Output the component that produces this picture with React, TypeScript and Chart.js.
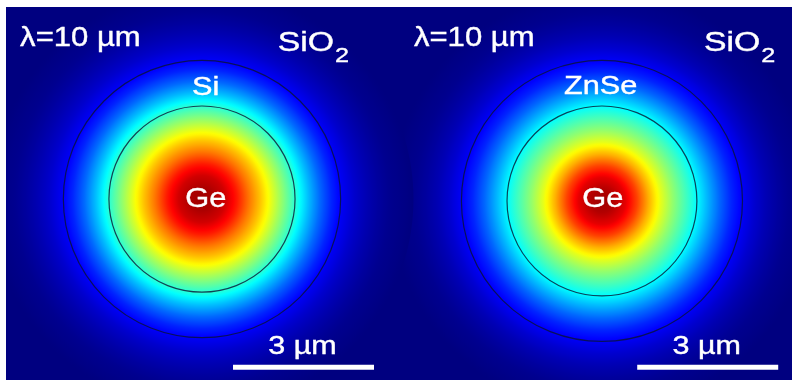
import { useEffect, useRef } from "react";
import { Chart, registerables } from "chart.js";

Chart.register(...registerables);

// ---- data ----
// radial sampling positions (µm from the fibre axis)
const radiusUm = [0, 0.25, 0.5, 0.75, 1.0, 1.25, 1.5, 1.75, 2.0, 2.25, 2.5, 2.75, 3.0, 3.25, 3.5, 3.75, 4.0, 4.5];
// normalised mode intensity along the radius (colour-map value 0..1)
const fieldGeSi = [0.97, 0.955, 0.92, 0.85, 0.76, 0.68, 0.59, 0.5, 0.41, 0.315, 0.23, 0.16, 0.11, 0.075, 0.05, 0.03, 0.015, 0];
const fieldGeZnSe = [0.97, 0.95, 0.9, 0.81, 0.7, 0.6, 0.52, 0.45, 0.38, 0.3, 0.225, 0.16, 0.115, 0.078, 0.05, 0.03, 0.015, 0];
// fibre geometry (µm)
const fiberCenterX = [4.17, 12.68];
const fiberCenterY = [3.85, 3.81];
const coreRadius = [1.98, 2.02];
const claddingRadius = [2.95, 2.99];
// labels
const wavelengthLabel = ["λ=10 µm", "λ=10 µm"];
const surroundLabel = ["SiO", "SiO"];
const surroundSub = ["2", "2"];
const claddingLabel = ["Si", "ZnSe"];
const coreLabel = ["Ge", "Ge"];
const scaleBarLength = [3, 3];
const scaleBarLabel = ["3 µm", "3 µm"];

const profiles = [fieldGeSi, fieldGeZnSe];

// ---- layout (µm in chart space, 47 px per µm) ----
const X_MAX = 786 / 47;
const Y_MAX = 373 / 47;
const scaleBarStart = [4.83, 13.43];
const scaleBarY = 0.27;
const titlePos = [[0.3, 7.11], [8.68, 7.11]];
const surroundPos = [[5.78, 7.0], [14.85, 7.0]];
const claddingPos = [[4.25, 6.07], [12.65, 6.09]];
const corePos = [[4.25, 3.68], [12.70, 3.69]];
const barLabelPos = [[6.31, 0.555], [14.91, 0.555]];

const FONT = '"Liberation Sans", Arial, sans-serif';

function jet(v: number): string {
  const c = (t: number) => Math.max(0, Math.min(1, t));
  const r = c(1.5 - Math.abs(4 * v - 3));
  const g = c(1.5 - Math.abs(4 * v - 2));
  const b = c(1.5 - Math.abs(4 * v - 1));
  return `rgb(${Math.round(r * 255)},${Math.round(g * 255)},${Math.round(b * 255)})`;
}

function umToPx(chart: any, um: number) {
  const xs = chart.scales && chart.scales.x;
  if (!xs) return 0;
  const v = xs.getPixelForValue(um) - xs.getPixelForValue(0);
  return Number.isFinite(v) ? v : 0;
}

function fieldGradient(chart: any, i: number) {
  const xs = chart.scales && chart.scales.x;
  const ys = chart.scales && chart.scales.y;
  if (!xs || !ys) return jet(0);
  const cx = xs.getPixelForValue(fiberCenterX[i]);
  const cy = ys.getPixelForValue(fiberCenterY[i]);
  const rMax = radiusUm[radiusUm.length - 1];
  const rPx = umToPx(chart, rMax);
  if (!Number.isFinite(cx) || !Number.isFinite(cy) || !(rPx > 0)) return jet(0);
  const g = chart.ctx.createRadialGradient(cx, cy, 0, cx, cy, rPx);
  const prof = profiles[i];
  const steps = 6;
  for (let k = 0; k < radiusUm.length - 1; k++) {
    for (let s = 0; s < steps; s++) {
      const t = s / steps;
      const r = radiusUm[k] + (radiusUm[k + 1] - radiusUm[k]) * t;
      const v = prof[k] + (prof[k + 1] - prof[k]) * t;
      g.addColorStop(r / rMax, jet(v));
    }
  }
  g.addColorStop(1, jet(prof[prof.length - 1]));
  return g;
}

function drawText(ctx: CanvasRenderingContext2D, text: string, x: number, y: number, size: number, align: CanvasTextAlign, sx: number) {
  ctx.save();
  ctx.translate(x, y);
  ctx.scale(sx, 1);
  ctx.font = `${size}px ${FONT}`;
  ctx.textAlign = align;
  ctx.textBaseline = "alphabetic";
  ctx.fillStyle = "#ffffff";
  ctx.strokeStyle = "#ffffff";
  ctx.lineWidth = 0.4;
  ctx.fillText(text, 0, 0);
  ctx.strokeText(text, 0, 0);
  const w = ctx.measureText(text).width * sx;
  ctx.restore();
  return w;
}

const backgroundPlugin = {
  id: "navyBackground",
  beforeDatasetsDraw(chart: any) {
    const { ctx, chartArea: a } = chart;
    ctx.save();
    ctx.fillStyle = jet(0);
    ctx.fillRect(a.left, a.top, a.right - a.left, a.bottom - a.top);
    ctx.restore();
  },
};

const labelPlugin = {
  id: "labels",
  afterDraw(chart: any) {
    const ctx = chart.ctx as CanvasRenderingContext2D;
    const xs = chart.scales.x;
    const ys = chart.scales.y;
    const P = (p: number[]) => [xs.getPixelForValue(p[0]), ys.getPixelForValue(p[1])];
    for (let i = 0; i < 2; i++) {
      let [x, y] = P(titlePos[i]);
      drawText(ctx, wavelengthLabel[i], x, y, 27, "left", 1.15);
      [x, y] = P(surroundPos[i]);
      const w = drawText(ctx, surroundLabel[i], x, y, 27, "left", 1.25);
      drawText(ctx, surroundSub[i], x + w + 1, y + 11, 21, "left", 1.2);
      [x, y] = P(claddingPos[i]);
      drawText(ctx, claddingLabel[i], x, y, 26, "center", 1.18);
      [x, y] = P(corePos[i]);
      drawText(ctx, coreLabel[i], x, y, 28, "center", 1.1);
      [x, y] = P(barLabelPos[i]);
      drawText(ctx, scaleBarLabel[i], x, y, 25, "center", 1.22);
    }
  },
};

export default function App() {
  const ref = useRef<HTMLCanvasElement | null>(null);

  useEffect(() => {
    document.body.style.margin = "0";
    const canvas = ref.current;
    if (!canvas) return;

    const datasets: any[] = [];
    // scale bars (top)
    for (let i = 0; i < 2; i++) {
      datasets.push({
        type: "line",
        data: [
          { x: scaleBarStart[i], y: scaleBarY },
          { x: scaleBarStart[i] + scaleBarLength[i], y: scaleBarY },
        ],
        showLine: true,
        borderColor: "#ffffff",
        borderWidth: 5,
        borderCapStyle: "butt",
        pointRadius: 0,
        order: 1,
      });
    }
    // material boundaries
    for (let i = 0; i < 2; i++) {
      for (const rr of [coreRadius[i], claddingRadius[i]]) {
        datasets.push({
          type: "scatter",
          data: [{ x: fiberCenterX[i], y: fiberCenterY[i] }],
          pointRadius: (c: any) => umToPx(c.chart, rr),
          pointHoverRadius: (c: any) => umToPx(c.chart, rr),
          backgroundColor: "rgba(0,0,0,0)",
          borderColor: "rgba(10,20,50,0.8)",
          pointBorderWidth: 1.2,
          order: 2,
        });
      }
    }
    // mode fields (bottom)
    for (let i = 0; i < 2; i++) {
      datasets.push({
        type: "scatter",
        data: [{ x: fiberCenterX[i], y: fiberCenterY[i] }],
        pointRadius: (c: any) => umToPx(c.chart, radiusUm[radiusUm.length - 1]),
        pointHoverRadius: (c: any) => umToPx(c.chart, radiusUm[radiusUm.length - 1]),
        backgroundColor: (c: any) => fieldGradient(c.chart, i),
        pointBorderWidth: 0,
        borderWidth: 0,
        order: 3 + i,
      });
    }

    const chart = new Chart(canvas, {
      type: "scatter",
      data: { datasets },
      options: {
        animation: false,
        responsive: false,
        events: [],
        layout: { padding: { left: 6, top: 7, right: 0, bottom: 0 } },
        scales: {
          x: { type: "linear", min: 0, max: X_MAX, display: false },
          y: { type: "linear", min: 0, max: Y_MAX, display: false },
        },
        plugins: {
          legend: { display: false },
          tooltip: { enabled: false },
        },
      } as any,
      plugins: [backgroundPlugin, labelPlugin],
    });
    return () => chart.destroy();
  }, []);

  return (
    <div style={{ width: 792, height: 380, background: "#ffffff" }}>
      <canvas ref={ref} width={792} height={380} style={{ display: "block", width: 792, height: 380 }} />
    </div>
  );
}
